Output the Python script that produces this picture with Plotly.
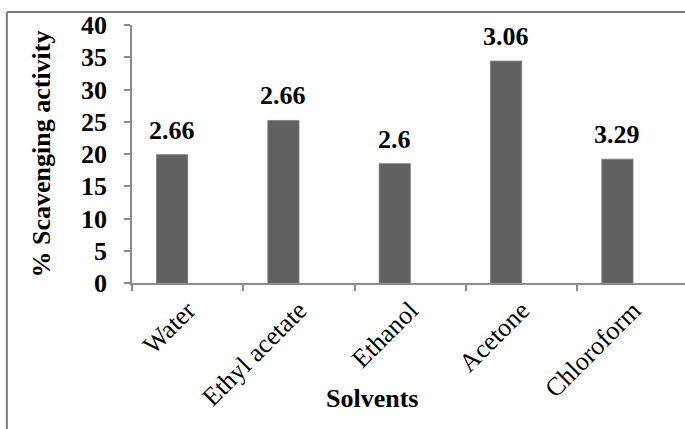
import plotly.graph_objects as go

categories = ["Water", "Ethyl acetate", "Ethanol", "Acetone", "Chloroform"]
scavenging = [19.9, 25.2, 18.5, 34.4, 19.2]
bar_labels = ["2.66", "2.66", "2.6", "3.06", "3.29"]
y_ticks = [0, 5, 10, 15, 20, 25, 30, 35, 40]

FONT = "Liberation Serif"
AX = "#8c8c8c"

fig = go.Figure()
fig.add_trace(go.Bar(
    x=categories, y=scavenging,
    width=0.28, offset=-0.28,
    marker=dict(color="#616161", line=dict(color="#7a7a7a", width=0.8)),
    hoverinfo="x+y", showlegend=False,
))

for c, v, t in zip(categories, scavenging, bar_labels):
    fig.add_annotation(x=c, y=v, text="<b>" + t + "</b>", showarrow=False, yanchor="bottom",
                       xshift=-15.6, yshift=8,
                       font=dict(family=FONT, size=26, color="black"))

fig.add_annotation(x=0.434, y=-0.448, xref="paper", yref="paper", text="<b>Solvents</b>",
                   showarrow=False, xanchor="center", yanchor="middle",
                   font=dict(family=FONT, size=26, color="black"))

# outer chart frame (partially visible: top and left edges)
fig.add_shape(type="line", xref="paper", yref="paper", x0=-0.2263, x1=1.0, y0=1.05, y1=1.05,
              line=dict(color="#7a7a7a", width=2), layer="above")
fig.add_shape(type="line", xref="paper", yref="paper", x0=-0.2263, x1=-0.2263, y0=1.05, y1=-0.6,
              line=dict(color="#7a7a7a", width=2), layer="above")

fig.update_layout(
    width=685, height=429,
    margin=dict(l=131.7, r=0, t=25, b=145.7, autoexpand=False),
    paper_bgcolor="white", plot_bgcolor="white",
    font=dict(family=FONT, color="black"),
    xaxis=dict(
        type="category", range=[-0.5, 4.467], automargin=False,
        tickangle=-45, tickfont=dict(family=FONT, size=26, color="black"),
        showline=True, linecolor=AX, linewidth=1.5,
        ticks="outside", tickson="boundaries", ticklen=6, tickcolor=AX, tickwidth=1.5,
        showgrid=False, zeroline=False,
    ),
    yaxis=dict(
        range=[0, 40], tickvals=y_ticks, automargin=False,
        ticktext=["<b>%d</b>" % v for v in y_ticks],
        tickfont=dict(family=FONT, size=26, color="black"),
        showline=True, linecolor=AX, linewidth=1.5,
        ticks="outside", ticklen=6, tickcolor=AX, tickwidth=1.5,
        ticklabelstandoff=12,
        showgrid=False, zeroline=False,
        title=dict(text="<b>% Scavenging activity</b>", standoff=23,
                   font=dict(family=FONT, size=26, color="black")),
    ),
)

fig.write_html("out.html", config={"displayModeBar": False},
               post_script="document.body.style.margin='0';")
